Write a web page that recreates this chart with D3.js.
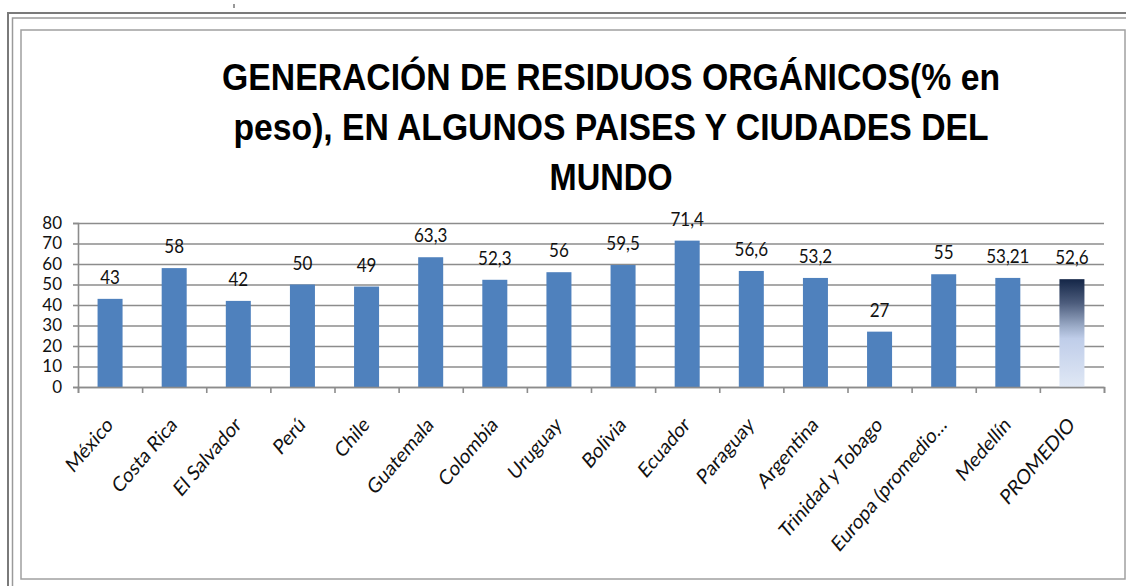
<!DOCTYPE html>
<html>
<head>
<meta charset="utf-8">
<script src="https://cdn.jsdelivr.net/npm/d3@7"></script>
<style>
  body { margin: 0; background: #fff; }
  svg { display: block; }
</style>
</head>
<body>
<svg id="chart" width="1126" height="586"></svg>
<script>
// data
const categories = [
  "México", "Costa Rica", "El Salvador", "Perú", "Chile", "Guatemala",
  "Colombia", "Uruguay", "Bolivia", "Ecuador", "Paraguay", "Argentina",
  "Trinidad y Tobago", "Europa (promedio…", "Medellín", "PROMEDIO"
];
const values = [43, 58, 42, 50, 49, 63.3, 52.3, 56, 59.5, 71.4, 56.6, 53.2, 27, 55, 53.21, 52.6];
const yTicks = [0, 10, 20, 30, 40, 50, 60, 70, 80];
const titleLines = [
  "GENERACIÓN DE RESIDUOS ORGÁNICOS(% en",
  "peso), EN ALGUNOS PAISES Y CIUDADES DEL",
  "MUNDO"
];
const titleWidths = [778, 755, 123];

const svg = d3.select("#chart");
const plotLeft = 78, plotRight = 1104, plotTop = 223, plotBottom = 387;
const labelFont = "Lato, 'Open Sans', sans-serif";
const stretch = 1.17; // the picture looks a bit taller than wide

// frames
svg.append("path").attr("d", "M8,586 V13 H1126").attr("fill", "none")
  .attr("stroke", "#7a7a7a").attr("stroke-width", 2);
svg.append("path").attr("d", "M12.5,586 V18 H1126").attr("fill", "none")
  .attr("stroke", "#9a9a9a").attr("stroke-width", 1.5);
svg.append("rect").attr("x", 21).attr("y", 30).attr("width", 1104).attr("height", 549)
  .attr("fill", "#fff").attr("stroke", "#a0a0a0").attr("stroke-width", 1.5);
svg.append("line").attr("x1", 234).attr("x2", 234).attr("y1", 4).attr("y2", 8)
  .attr("stroke", "#333").attr("stroke-width", 1);

// title
svg.append("g").selectAll("text")
  .data(titleLines)
  .enter()
  .append("text")
  .attr("transform", (d, i) => `translate(611,${90 + i * 50}) scale(1,${stretch})`)
  .attr("text-anchor", "middle")
  .attr("font-family", "'Liberation Sans', Arial, sans-serif")
  .attr("font-weight", "bold")
  .attr("font-size", 32)
  .attr("textLength", (d, i) => titleWidths[i])
  .attr("lengthAdjust", "spacingAndGlyphs")
  .attr("fill", "#000")
  .text((d) => d);

// scales
const xScale = d3.scaleBand().domain(categories).range([plotLeft, plotRight])
  .paddingInner(0.61).paddingOuter(0.305);
const xEdge = d3.scaleLinear().domain([0, categories.length]).range([plotLeft, plotRight]);
const yScale = d3.scaleLinear().domain([0, 80]).range([plotBottom, plotTop]);

// gridlines
svg.append("g")
  .attr("transform", `translate(${plotLeft},0)`)
  .call(d3.axisLeft(yScale).tickValues(yTicks).tickSize(-(plotRight - plotLeft)).tickFormat(""))
  .call((g) => g.select(".domain").remove())
  .call((g) => g.selectAll("line").attr("stroke", "#8c8c8c").attr("stroke-width", 1.6));

// gradient for PROMEDIO
const grad = svg.append("defs").append("linearGradient")
  .attr("id", "promGrad").attr("x1", 0).attr("y1", 0).attr("x2", 0).attr("y2", 1);
[["0%", "#142647"], ["22%", "#4c5c7c"], ["44%", "#9cacc8"], ["55%", "#bfcde9"],
 ["100%", "#e0e8f5"]].forEach(([o, c]) => grad.append("stop").attr("offset", o).attr("stop-color", c));

// bars
const rows = categories.map((c, i) => ({ cat: c, v: values[i] }));
svg.append("g").selectAll("rect")
  .data(rows)
  .enter()
  .append("rect")
  .attr("x", (d) => xScale(d.cat))
  .attr("y", (d) => yScale(d.v))
  .attr("width", xScale.bandwidth())
  .attr("height", (d) => yScale(0) - yScale(d.v))
  .attr("fill", (d) => d.cat === "PROMEDIO" ? "url(#promGrad)" : "#4f81bd");

// value labels
svg.append("g").selectAll("text")
  .data(rows)
  .enter()
  .append("text")
  .attr("transform", (d) =>
    `translate(${xScale(d.cat) + xScale.bandwidth() / 2},${yScale(d.v) - 15}) scale(1,${stretch})`)
  .attr("text-anchor", "middle")
  .attr("font-family", labelFont)
  .attr("font-size", 17)
  .attr("fill", "#111")
  .text((d) => String(d.v).replace(".", ","));

// y axis
svg.append("g")
  .attr("transform", `translate(${plotLeft},0)`)
  .call(d3.axisLeft(yScale).tickValues(yTicks).tickSize(5).tickPadding(11))
  .call((g) => g.select(".domain").attr("stroke", "#8c8c8c").attr("stroke-width", 1.6))
  .call((g) => g.selectAll("line").attr("stroke", "#8c8c8c").attr("stroke-width", 1.6))
  .call((g) => g.selectAll("text").attr("font-family", labelFont).attr("font-size", 17).attr("fill", "#111"));

// x axis (ticks between categories)
svg.append("g")
  .attr("transform", `translate(0,${plotBottom})`)
  .call(d3.axisBottom(xEdge).ticks(categories.length).tickSize(6).tickFormat("").tickSizeOuter(6))
  .call((g) => g.select(".domain").attr("stroke", "#8c8c8c").attr("stroke-width", 1.6))
  .call((g) => g.selectAll("line").attr("stroke", "#8c8c8c").attr("stroke-width", 1.6));

// category labels
svg.append("g").selectAll("text")
  .data(categories)
  .enter()
  .append("text")
  .attr("transform", (d) =>
    `translate(${xScale(d) + xScale.bandwidth() / 2 + 4},426) scale(1,${stretch}) rotate(-45)`)
  .attr("text-anchor", "end")
  .attr("font-family", labelFont)
  .attr("font-size", 18)
  .attr("fill", "#111")
  .text((d) => d);
</script>
</body>
</html>
